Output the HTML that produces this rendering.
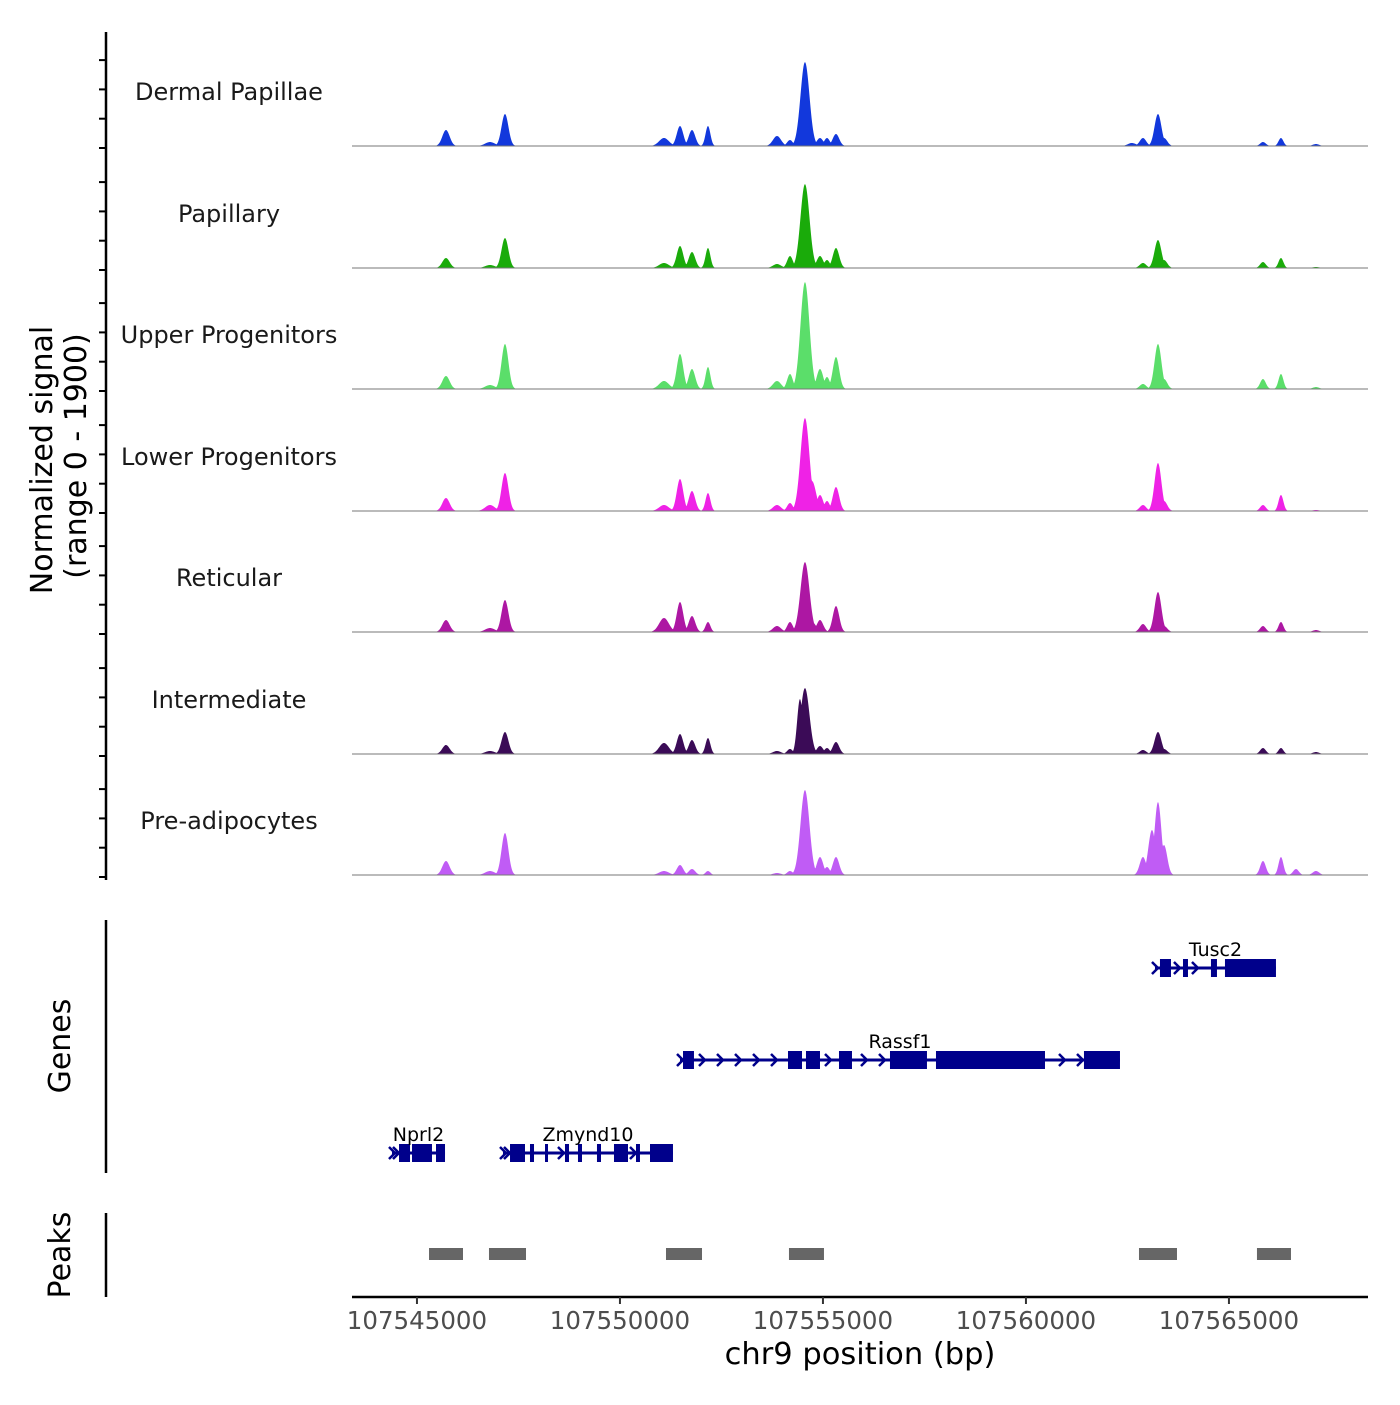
<!DOCTYPE html>
<html><head><meta charset="utf-8">
<style>
html,body{margin:0;padding:0;background:#fff;}
svg text{font-family:"DejaVu Sans","Liberation Sans",sans-serif;}
</style></head>
<body>
<svg id="chart" width="1400" height="1400" viewBox="0 0 1400 1400" xmlns="http://www.w3.org/2000/svg">
<g id="tracks"></g>
<g id="genes"></g>
<g id="peaks"></g>
<g id="axes"></g>
</svg>
<script>
const regionStart = 107543400, regionEnd = 107568425;
const trackNames = ["Dermal Papillae","Papillary","Upper Progenitors","Lower Progenitors","Reticular","Intermediate","Pre-adipocytes"];
const trackColors = ["#1238dc","#1aab0a","#5bde6a","#ef22e6","#ad17a3","#3b0b57","#c05cf5"];
const peakCenters = [107545715,107546799,107547168,107551085,107551479,107551774,107552168,107553868,107554188,107554434,107554557,107554730,107554927,107555099,107555321,107562611,107562882,107563104,107563252,107563400,107565838,107566281,107566651,107567143];
const peakSigma = [90,120,85,120,80,80,60,100,70,70,110,100,80,70,80,100,80,90,85,80,70,60,70,80];
const sigDermal = [264,66,528,132,330,264,330,165,99,0,1386,0,132,132,198,50,132,0,528,132,66,132,0,33];
const sigPapillary = [165,50,495,83,363,264,330,66,198,0,1386,0,198,132,330,0,83,0,462,132,99,165,0,17];
const sigUpper = [215,66,743,132,578,330,363,132,248,0,1766,0,330,198,528,0,83,0,743,165,165,248,0,33];
const sigLower = [215,99,627,99,528,330,297,99,132,0,1535,495,264,165,396,0,99,0,792,165,99,264,0,17];
const sigReticular = [198,66,528,231,495,264,165,99,165,0,1155,165,198,0,429,0,132,0,660,99,99,165,0,33];
const sigIntermediate = [149,50,363,182,330,231,264,50,83,908,1089,0,132,99,198,0,66,0,363,83,99,99,0,33];
const sigPreadipo = [231,66,693,66,165,99,66,33,66,0,1403,0,297,132,297,0,297,743,1205,495,231,297,99,66];
const trackSignals = [sigDermal,sigPapillary,sigUpper,sigLower,sigReticular,sigIntermediate,sigPreadipo];
const xTicks = [107545000,107550000,107555000,107560000,107565000];
const geneNames = ["Tusc2","Rassf1","Nprl2","Zmynd10"];
const geneRows = [0,1,2,2];
const geneStarts = [107563178,107551479,107544385,107547119];
const geneEnds = [107566158,107562316,107545691,107551306];
const geneExons = [
 [[107563301,107563572],[107563868,107563991],[107564557,107564705],[107564902,107566158]],
 [[107551553,107551823],[107554139,107554484],[107554582,107554927],[107555395,107555715],[107556651,107557562],[107557784,107560469],[107561429,107562316]],
 [[107544558,107544829],[107544878,107545370],[107545469,107545691]],
 [[107547292,107547661],[107547784,107547883],[107548154,107548227],[107548646,107548745],[107548966,107549065],[107549434,107549533],[107549853,107550198],[107550395,107550493],[107550740,107551306]]
];
const peakStarts = [107545297,107546774,107551134,107554163,107562784,107565690];
const peakEnds = [107546134,107547686,107552021,107555025,107563720,107566528];

const NS="http://www.w3.org/2000/svg";
const X0=352,X1=1368;
const xs = bp => X0 + (bp-regionStart)/(regionEnd-regionStart)*(X1-X0);
const baselines=[146,268,389,511,632,754,875];
const ys = (v,b) => b - v/1900*115;
function mk(tag,attrs,parent){const e=document.createElementNS(NS,tag);for(const k in attrs)e.setAttribute(k,attrs[k]);parent.appendChild(e);return e;}

const tg=document.getElementById('tracks');
trackSignals.forEach((sig,t)=>{
  const b=baselines[t];
  const g=mk('g',{},tg);
  
  
  let d='M'+X0+','+b;
  for(let px=X0;px<=X1;px+=0.5){
    const bp=regionStart+(px-X0)/(X1-X0)*(regionEnd-regionStart);
    let v=0;
    for(let i=0;i<peakCenters.length;i++){
      const dd=(bp-peakCenters[i])/peakSigma[i];
      v=Math.max(v,sig[i]*Math.exp(-0.5*dd*dd));
    }
    d+=' L'+px.toFixed(1)+','+ys(v,b).toFixed(2);
  }
  d+=' L'+X1+','+b+' Z';
  const a=mk('path',{d:d,fill:trackColors[t],stroke:'none'},g);
  
  
  const l=mk('line',{x1:X0,x2:X1,y1:b,y2:b,stroke:'#777',"stroke-width":1},g);
  
  
  const tx=mk('text',{x:229,y:b-46,"text-anchor":"middle","font-size":24,fill:'#1a1a1a'},g);
  tx.textContent=trackNames[t];
  
  
});

const gg=document.getElementById('genes');
const rowY=[968,1060,1153];
geneNames.forEach((n,i)=>{
  const y=rowY[geneRows[i]];
  const g=mk('g',{},gg);
  
  
  const s=xs(geneStarts[i]),e=xs(geneEnds[i]);
  mk('line',{x1:s,x2:e,y1:y,y2:y,stroke:'#00008b',"stroke-width":3},g);
  for(let x=s+4;x<e-4;x+=18){
    let inEx=geneExons[i].some(ex=>x>=xs(ex[0])-3&&x<=xs(ex[1])+3);
    if(inEx)continue;
    mk('polyline',{points:(x-3)+','+(y-6)+' '+(x+3)+','+y+' '+(x-3)+','+(y+6),fill:'none',stroke:'#00008b',"stroke-width":2.5},g);
  }
  mk('polyline',{points:(s-3)+','+(y-6)+' '+(s+3)+','+y+' '+(s-3)+','+(y+6),fill:'none',stroke:'#00008b',"stroke-width":2.5},g);
  geneExons[i].forEach(ex=>{
    const r=mk('rect',{x:xs(ex[0]),y:y-9,width:Math.max(3,xs(ex[1])-xs(ex[0])),height:18,fill:'#00008b'},g);
    
    
  });
  const tx=mk('text',{x:(s+e)/2,y:y-12,"text-anchor":"middle","font-size":19,fill:'#000'},g);
  tx.textContent=n;
  
  
});

const pg=document.getElementById('peaks');
peakStarts.forEach((s,i)=>{
  const r=mk('rect',{x:xs(s),y:1248,width:xs(peakEnds[i])-xs(s),height:12,fill:'#666'},pg);
  
  
});

const ax=document.getElementById('axes');
mk('line',{x1:106,x2:106,y1:32,y2:880,stroke:'#000',"stroke-width":2.5},ax);
for(let t=0;t<7;t++){for(let k=0;k<4;k++){const y=baselines[t]+2-k*29.3;mk('line',{x1:99,x2:106,y1:y,y2:y,stroke:'#000',"stroke-width":2},ax);}}
mk('line',{x1:106,x2:106,y1:920,y2:1173,stroke:'#000',"stroke-width":2.5},ax);
mk('line',{x1:106,x2:106,y1:1213,y2:1297,stroke:'#000',"stroke-width":2.5},ax);
mk('line',{x1:352,x2:1368,y1:1297,y2:1297,stroke:'#000',"stroke-width":2.5},ax);
xTicks.forEach(v=>{
  const x=xs(v);
  mk('line',{x1:x,x2:x,y1:1297,y2:1304,stroke:'#333',"stroke-width":2},ax);
  const t=mk('text',{x:x,y:1329,"text-anchor":"middle","font-size":24.5,fill:'#4d4d4d'},ax);
  t.textContent=v;
  
  
});
const xt=mk('text',{x:860,y:1364,"text-anchor":"middle","font-size":30.5,fill:'#000'},ax);
xt.textContent='chr9 position (bp)';


const yt=mk('text',{transform:'translate(52,460) rotate(-90)',"text-anchor":"middle","font-size":30,fill:'#000'},ax);
yt.textContent='Normalized signal';


const yt2=mk('text',{transform:'translate(86,456) rotate(-90)',"text-anchor":"middle","font-size":30,fill:'#000'},ax);
yt2.textContent='(range 0 - 1900)';


const gt=mk('text',{transform:'translate(70,1046) rotate(-90)',"text-anchor":"middle","font-size":30,fill:'#000'},ax);
gt.textContent='Genes';


const pt=mk('text',{transform:'translate(70,1255) rotate(-90)',"text-anchor":"middle","font-size":30,fill:'#000'},ax);
pt.textContent='Peaks';


</script>
</body></html>
